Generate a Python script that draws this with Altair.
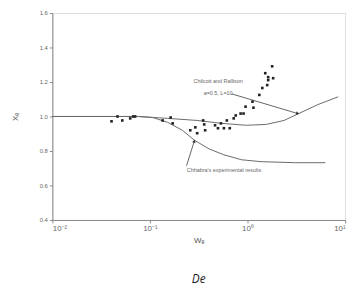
import altair as alt
import pandas as pd

# measured data points (We, Xe)
pt_x = [0.0404, 0.0465, 0.0521, 0.0628, 0.0673, 0.0705, 0.135, 0.163, 0.171, 0.259,
        0.292, 0.305, 0.351, 0.360, 0.368, 0.465, 0.498, 0.534, 0.573, 0.614,
        0.658, 0.722, 0.757, 0.850, 0.911, 0.955, 1.125, 1.151, 1.322, 1.418,
        1.592, 1.629, 1.520, 1.629, 1.832, 1.790]
pt_y = [0.972, 1.000, 0.977, 0.989, 1.000, 1.000, 0.977, 0.994, 0.960, 0.920,
        0.937, 0.903, 0.977, 0.954, 0.920, 0.949, 0.932, 0.960, 0.932, 0.977,
        0.932, 0.989, 1.006, 1.017, 1.017, 1.057, 1.086, 1.051, 1.125, 1.165,
        1.182, 1.211, 1.251, 1.228, 1.222, 1.291]

# Chhabra's experimental results curve
chh_x = [0.01, 0.0757, 0.107, 0.152, 0.215, 0.285, 0.404, 0.573, 0.869, 1.38, 3.12, 6.28]
chh_y = [1.0, 1.0, 0.994, 0.966, 0.920, 0.863, 0.812, 0.778, 0.749, 0.738, 0.732, 0.732]

# Chilcott and Rallison curve
cr_x = [0.01, 0.0757, 0.152, 0.305, 0.546, 0.977, 1.556, 2.37, 3.35, 5.21, 8.49]
cr_y = [1.0, 1.0, 0.989, 0.977, 0.960, 0.949, 0.954, 0.977, 1.017, 1.068, 1.114]

# annotation leader lines
lead1_x = [0.689, 3.27]
lead1_y = [1.131, 1.017]
lead2_x = [0.237, 0.285]
lead2_y = [0.714, 0.857]

labels = ["Chilcott and Rallison", "a=0.5, L=10", "Chhabra's experimental results"]
label_x = [0.50, 0.50, 0.573]
label_y = [1.205, 1.137, 0.692]

x_ticks = [0.01, 0.1, 1, 10]
y_ticks = [0.4, 0.6, 0.8, 1.0, 1.2, 1.4, 1.6]

pts = pd.DataFrame({"x": pt_x, "y": pt_y})
curves = pd.concat([
    pd.DataFrame({"x": chh_x, "y": chh_y, "s": "chh", "o": range(len(chh_x))}),
    pd.DataFrame({"x": cr_x, "y": cr_y, "s": "cr", "o": range(len(cr_x))}),
])
leads = pd.concat([
    pd.DataFrame({"x": lead1_x, "y": lead1_y, "s": "l1", "o": [0, 1]}),
    pd.DataFrame({"x": lead2_x, "y": lead2_y, "s": "l2", "o": [0, 1]}),
])
heads = pd.DataFrame({"x": [lead1_x[1], lead2_x[1]], "y": [lead1_y[1], lead2_y[1]],
                      "a": [17, 288]})
texts = pd.DataFrame({"x": label_x, "y": label_y, "t": labels})

xs = alt.Scale(type="log", domain=[0.01, 10])
ys = alt.Scale(domain=[0.4, 1.6], nice=False, zero=False)

xenc = alt.X("x:Q", scale=xs, axis=alt.Axis(
    values=x_ticks, title="Wₑ", grid=False, labelOverlap=False,
    labelExpr="'10' + (datum.value < 0.05 ? '⁻²' : datum.value < 0.5 ? '⁻¹' : datum.value < 5 ? '⁰' : '¹')",
    labelFontSize=8, titleFontSize=8, titleFontWeight="normal", titlePadding=4,
    labelColor="#666", titleColor="#555", domainColor="#888", tickColor="#888", tickSize=3,
))
yenc = alt.Y("y:Q", scale=ys, axis=alt.Axis(
    values=y_ticks, title="Xₑ", grid=False, labelExpr="format(datum.value, '.1f')",
    labelOverlap=False, tickCount=7,
    labelFontSize=6, titleFontSize=8, titleFontWeight="normal", titlePadding=20,
    labelColor="#666", titleColor="#555", domainColor="#888", tickColor="#888", tickSize=3,
))

line_layer = alt.Chart(curves).mark_line(color="#6a6a6a", strokeWidth=1).encode(
    x=xenc, y=yenc, detail="s:N", order="o:Q")
lead_layer = alt.Chart(leads).mark_line(color="#555", strokeWidth=0.9).encode(
    x=xenc, y=yenc, detail="s:N", order="o:Q")
head_layer = alt.Chart(heads).mark_point(shape="triangle-right", filled=True, size=14,
                                         color="#333", opacity=1).encode(
    x=xenc, y=yenc, angle=alt.Angle("a:Q", scale=None))
pt_layer = alt.Chart(pts).mark_square(size=7, color="#222", opacity=1).encode(x=xenc, y=yenc)
txt_layer = alt.Chart(texts).mark_text(fontSize=5.5, color="#666666").encode(
    x=xenc, y=yenc, text="t:N")

chart = alt.layer(line_layer, lead_layer, head_layer, pt_layer, txt_layer).properties(
    width=297, height=210,
    autosize=alt.AutoSizeParams(type="none"),
    padding={"left": 45, "top": 3, "right": 5, "bottom": 70},
    title=alt.TitleParams("De", orient="bottom", fontStyle="italic", fontWeight="normal",
                          fontSize=12, color="#222", offset=30, font="Open Sans"),
).configure_view(stroke="#888", strokeWidth=1).configure(background="white")

chart.save("out.html", embed_options={"renderer": "svg", "actions": False})
